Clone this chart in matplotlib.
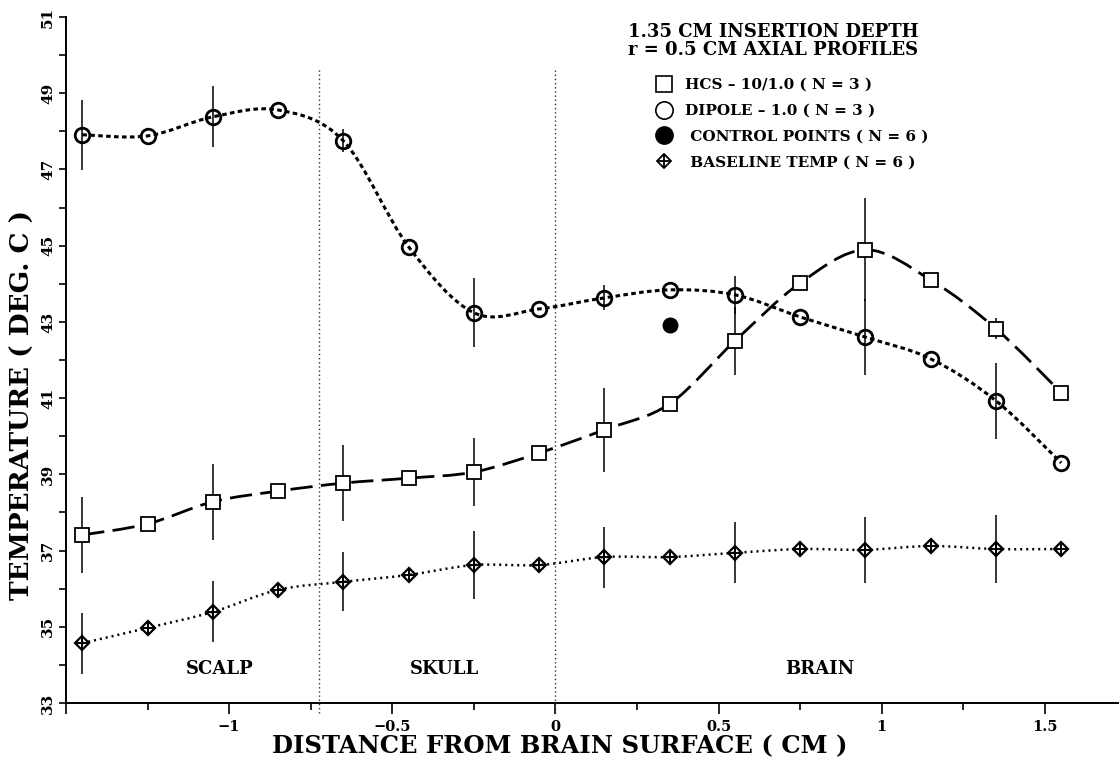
import numpy as np
import matplotlib
matplotlib.use("Agg")
import matplotlib.pyplot as plt
from matplotlib.path import Path
from matplotlib.patches import PathPatch
from matplotlib.lines import Line2D

nan = np.nan

# ---------------- data ----------------
distance = [-1.45, -1.25, -1.05, -0.85, -0.65, -0.45, -0.25, -0.05,
            0.15, 0.35, 0.55, 0.75, 0.95, 1.15, 1.35, 1.55]

hcs_temp = [37.41, 37.70, 38.28, 38.56, 38.77, 38.90, 39.06, 39.56,
            40.17, 40.85, 42.50, 44.02, 44.89, 44.10, 42.82, 41.14]
hcs_err = [1.0, nan, 1.0, nan, 1.0, nan, 0.9, nan,
           1.1, nan, 0.9, nan, 1.35, nan, 0.27, nan]

dipole_temp = [47.91, 47.88, 48.38, 48.56, 47.75, 44.97, 43.24, 43.34,
               43.63, 43.84, 43.71, 43.13, 42.60, 42.03, 40.93, 39.30]
dipole_err = [0.92, nan, 0.8, nan, 0.3, nan, 0.9, nan,
              0.33, nan, 0.5, nan, 1.0, nan, 1.0, nan]

baseline_temp = [34.57, 34.97, 35.39, 35.97, 36.18, 36.36, 36.62, 36.62,
                 36.83, 36.83, 36.94, 37.04, 37.02, 37.12, 37.04, 37.04]
baseline_err = [0.8, nan, 0.8, nan, 0.77, nan, 0.9, nan,
                0.8, nan, 0.8, nan, 0.86, nan, 0.9, nan]

control_x = [0.35]
control_temp = [42.92]

region_bounds = [-0.725, 0.0]
region_names = ["SCALP", "SKULL", "BRAIN"]
region_x = [-1.03, -0.34, 0.81]

xtick_pos = [-1.5, -1.0, -0.5, 0.0, 0.5, 1.0, 1.5]
xtick_labels = ["", "\u22121", "\u22120.5", "0", "0.5", "1", "1.5"]
ytick_pos = [33, 35, 37, 39, 41, 43, 45, 47, 49, 51]
ytick_labels = ["33", "35", "37", "39", "41", "43", "45", "47", "49", "51"]

legend_labels = ["HCS \u2013 10/1.0 ( N = 3 )",
                 "DIPOLE \u2013 1.0 ( N = 3 )",
                 " CONTROL POINTS ( N = 6 )",
                 " BASELINE TEMP ( N = 6 )"]
title_lines = ["1.35 CM INSERTION DEPTH", "r = 0.5 CM AXIAL PROFILES"]
x_label = "DISTANCE FROM BRAIN SURFACE ( CM )"
y_label = "TEMPERATURE ( DEG. C )"

# ---------------- style ----------------
FONT = "DejaVu Serif"
plt.rcParams["font.family"] = FONT
plt.rcParams["font.weight"] = "bold"

W, H = 1119, 764
fig = plt.figure(figsize=(W / 100, H / 100), dpi=100)
ax = fig.add_axes([66 / W, 1 - 703 / H, 1 - 66 / W, (703 - 17) / H])
ax.set_xlim(-1.5, 1.727)
ax.set_ylim(33, 51)


def smooth_curve(ax, xs, ys, **kw):
    """Catmull-Rom curve through the points, drawn as a Bezier path."""
    pts = np.column_stack([xs, ys]).astype(float)
    n = len(pts)
    verts = [pts[0]]
    codes = [Path.MOVETO]
    for i in range(n - 1):
        p0 = pts[i - 1] if i > 0 else pts[i]
        p1 = pts[i]
        p2 = pts[i + 1]
        p3 = pts[i + 2] if i + 2 < n else pts[i + 1]
        c1 = p1 + (p2 - p0) / 6.0
        c2 = p2 - (p3 - p1) / 6.0
        verts += [c1, c2, p2]
        codes += [Path.CURVE4] * 3
    patch = PathPatch(Path(verts, codes), fill=False, **kw)
    ax.add_patch(patch)
    return patch


# region dividers
for b in region_bounds:
    ax.plot([b, b], [32.75, 49.65], color="#333333", lw=1.0,
            linestyle=(0, (1, 2)), clip_on=False)

# curves
smooth_curve(ax, distance, hcs_temp, edgecolor="black", lw=2.0,
             linestyle=(0, (8.0, 3.0)))
smooth_curve(ax, distance, dipole_temp, edgecolor="black", lw=2.2,
             linestyle=(0, (1.5, 1.1)))
smooth_curve(ax, distance, baseline_temp, edgecolor="black", lw=1.8,
             linestyle=(0, (0.8, 1.6)))

# error bars
ebkw = dict(fmt="none", ecolor="black", elinewidth=1.1, capsize=0)
ax.errorbar(distance, hcs_temp, yerr=hcs_err, **ebkw)
ax.errorbar(distance, dipole_temp, yerr=dipole_err, **ebkw)
ax.errorbar(distance, baseline_temp, yerr=baseline_err, **ebkw)

# markers
ax.plot(distance, hcs_temp, linestyle="none", marker="s", ms=10.5,
        mfc="white", mec="black", mew=1.3, zorder=5)
ax.plot(distance, dipole_temp, linestyle="none", marker="o", ms=10.5,
        mfc="none", mec="black", mew=2.0, zorder=5)
ax.plot(distance, baseline_temp, linestyle="none", marker="D", ms=7.5,
        mfc="none", mec="black", mew=1.6, zorder=5)
ax.plot(distance, baseline_temp, linestyle="none", marker="+", ms=10.5,
        mec="black", mew=1.4, zorder=5)
ax.plot(control_x, control_temp, linestyle="none", marker="o", ms=10.5,
        mfc="black", mec="black", zorder=5)

# region labels
for name, xr in zip(region_names, region_x):
    ax.text(xr, 33.9, name, ha="center", va="center", fontsize=13,
            fontweight="bold", family=FONT)

# axes styling
for s in ["top", "right"]:
    ax.spines[s].set_visible(False)
ax.spines["left"].set_linewidth(1.4)
ax.spines["bottom"].set_linewidth(1.4)

ax.set_xticks(xtick_pos)
ax.set_xticklabels(xtick_labels, fontsize=10.5, fontweight="bold")
ax.set_xticks([-1.25, -0.75, -0.25, 0.25, 0.75, 1.25], minor=True)
ax.set_yticks(ytick_pos)
ax.set_yticklabels(ytick_labels, fontsize=11, fontweight="bold",
                   rotation=90, va="center")
ax.set_yticks([34, 36, 38, 40, 42, 44, 46, 48, 50], minor=True)
ax.tick_params(axis="x", which="major", direction="out", length=8,
               width=1.2, pad=4)
ax.tick_params(axis="x", which="minor", direction="out", length=5, width=1.2)
ax.tick_params(axis="y", which="major", direction="out", length=5,
               width=1.2, pad=3)
ax.tick_params(axis="y", which="minor", direction="out", length=5, width=1.2)

fig.text(560 / W, 1 - 746 / H, x_label, fontsize=17.5, fontweight="bold",
         ha="center", va="center")
fig.text(22 / W, 1 - 405 / H, y_label, fontsize=19, fontweight="bold",
         ha="center", va="center", rotation=90)

# title block + legend
fig.text(628 / W, 1 - 32 / H, title_lines[0], fontsize=13,
         fontweight="bold", va="center", ha="left")
fig.text(628 / W, 1 - 50 / H, title_lines[1], fontsize=13,
         fontweight="bold", va="center", ha="left")

h_hcs = Line2D([], [], linestyle="none", marker="s", ms=12, mfc="white",
               mec="black", mew=1.2)
h_dip = Line2D([], [], linestyle="none", marker="o", ms=12.5, mfc="white",
               mec="black", mew=1.2)
h_ctl = Line2D([], [], linestyle="none", marker="o", ms=12.5, mfc="black",
               mec="black")
h_bd = Line2D([], [], linestyle="none", marker="D", ms=7.5, mfc="none",
              mec="black", mew=1.3)
h_bp = Line2D([], [], linestyle="none", marker="+", ms=10.5, mec="black",
              mew=1.3)
leg = ax.legend([h_hcs, h_dip, h_ctl, (h_bd, h_bp)], legend_labels,
                loc="upper left", bbox_to_anchor=(655 / W, 1 - 78 / H),
                bbox_transform=fig.transFigure, frameon=False,
                prop=dict(family=FONT, weight="bold", size=11),
                handlelength=1.2, handletextpad=0.75, labelspacing=0.78,
                borderpad=0, borderaxespad=0)

fig.savefig("out.png", dpi=100)
